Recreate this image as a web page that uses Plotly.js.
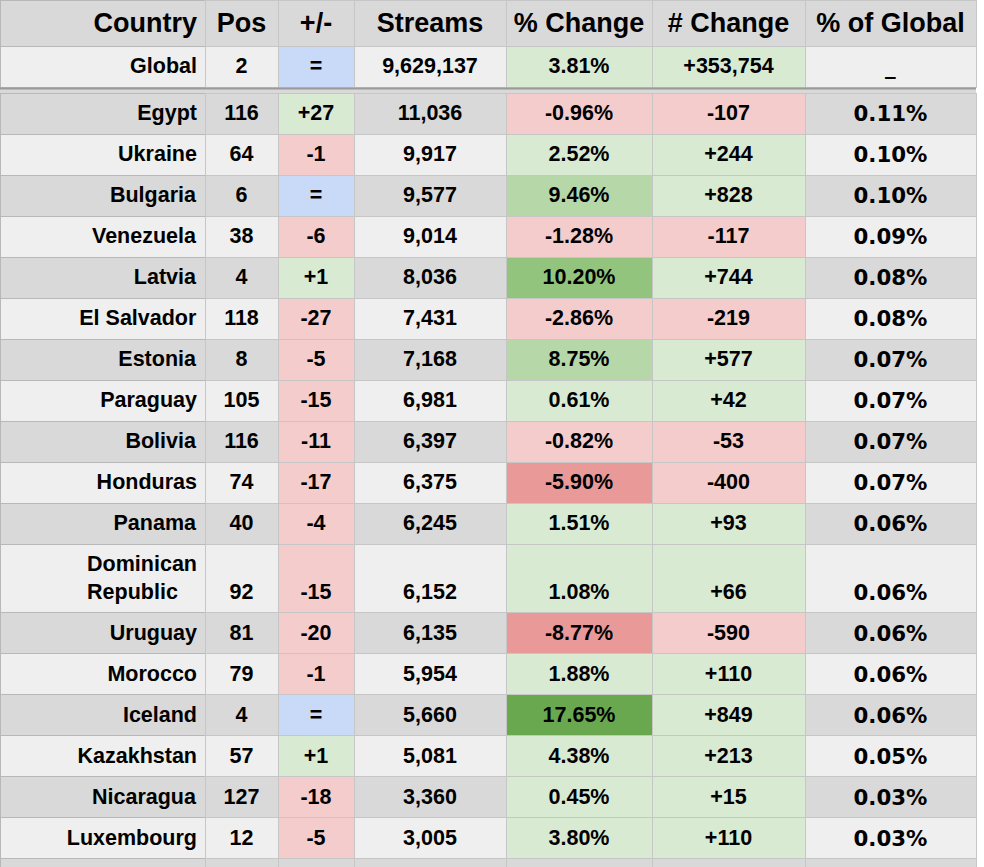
<!DOCTYPE html>
<html>
<head>
<meta charset="utf-8">
<script src="https://cdn.plot.ly/plotly-3.0.1.min.js"></script>
<style>html,body{margin:0;padding:0;background:#fff;}#chart{width:984px;height:867px;}</style>
</head>
<body>
<div id="chart"></div>
<script>
// ---- data ----
const headers = ["Country", "Pos", "+/-", "Streams", "% Change", "# Change", "% of Global"];
const globalRow = {country: "Global", pos: 2, posChange: "=", streams: 9629137, pctChange: 3.81, numChange: 353754, pctGlobal: "_"};
const countries = ["Egypt","Ukraine","Bulgaria","Venezuela","Latvia","El Salvador","Estonia","Paraguay","Bolivia","Honduras","Panama","Dominican Republic","Uruguay","Morocco","Iceland","Kazakhstan","Nicaragua","Luxembourg"];
const pos = [116,64,6,38,4,118,8,105,116,74,40,92,81,79,4,57,127,12];
const posChange = ["+27","-1","=","-6","+1","-27","-5","-15","-11","-17","-4","-15","-20","-1","=","+1","-18","-5"];
const streams = [11036,9917,9577,9014,8036,7431,7168,6981,6397,6375,6245,6152,6135,5954,5660,5081,3360,3005];
const pctChange = [-0.96,2.52,9.46,-1.28,10.20,-2.86,8.75,0.61,-0.82,-5.90,1.51,1.08,-8.77,1.88,17.65,4.38,0.45,3.80];
const numChange = [-107,244,828,-117,744,-219,577,42,-53,-400,93,66,-590,110,849,213,15,110];
const pctGlobal = [0.11,0.10,0.10,0.09,0.08,0.08,0.07,0.07,0.07,0.07,0.06,0.06,0.06,0.06,0.06,0.05,0.03,0.03];

// ---- formatting helpers ----
const b = s => "<b>" + s + "</b>";
const nb = s => s.replace(/ /g, "\u00a0");
const fmtInt = v => v.toLocaleString("en-US");
const fmtPct = v => v.toFixed(2) + "%";
const fmtSigned = v => (v > 0 ? "+" : "") + v.toLocaleString("en-US");
const wrapName = s => s.length > 12 ? s.replace(" ", "<br>") : s;

const GRAY = "#d9d9d9", LIGHT = "#efefef";
const GREEN = "#d9ead3", RED = "#f4cccc", BLUE = "#c9daf8";
function pctColor(v) {
  if (v >= 15) return "#6aa84f";
  if (v >= 10) return "#93c47d";
  if (v >= 8) return "#b6d7a8";
  if (v >= 0) return GREEN;
  if (v <= -5) return "#ea9999";
  return RED;
}
const signColor = s => s === "=" ? BLUE : (String(s).startsWith("-") ? RED : GREEN);
const numColor = v => v < 0 ? RED : GREEN;

const fontFam = "Liberation Sans, Arial, sans-serif";
const wideFam = "DejaVu Sans, Liberation Sans, sans-serif";
const colWidths = [205, 73, 76, 152, 146, 153, 171];
const aligns = ["right", "center", "center", "center", "center", "center", "center"];
const sizes = [21.5, 21.5, 21.5, 21.5, 21.5, 21.5, 21.3];
const fams = [fontFam, fontFam, fontFam, fontFam, fontFam, fontFam, wideFam];
const lineCols = ["#b8b8b8", "#c6c6c6", "#c6c6c6", "#c6c6c6", "#c6c6c6", "#c6c6c6", "#c6c6c6"];
const tableRight = 976 / 984;
const H = 867;

// ---- top table: header + Global ----
const topTrace = {
  type: "table",
  domain: {x: [0, tableRight], y: [1 - 88 / H, 1]},
  columnwidth: colWidths,
  header: {
    values: headers.map(h => b(nb(h))),
    align: aligns,
    height: 44,
    fill: {color: GRAY},
    line: {color: lineCols, width: 1},
    font: {family: fontFam, size: 27, color: "#000"}
  },
  cells: {
    values: [
      [b(globalRow.country)], [b(globalRow.pos)], [b(globalRow.posChange)], [b(fmtInt(globalRow.streams))],
      [b(fmtPct(globalRow.pctChange))], [b(fmtSigned(globalRow.numChange))], [b(globalRow.pctGlobal)]
    ],
    align: aligns,
    height: 41,
    fill: {color: [[LIGHT], [LIGHT], [signColor(globalRow.posChange)], [LIGHT], [pctColor(globalRow.pctChange)], [numColor(globalRow.numChange)], [LIGHT]]},
    line: {color: lineCols, width: 1},
    font: {family: fams, size: sizes, color: "#000"}
  }
};

// ---- body table ----
const n = countries.length;
const multi = countries.map(c => wrapName(c).includes("<br>"));
// cells beside a wrapped country name sit on its last line (bottom aligned)
const pre = i => (multi[i] ? "\u00a0<br>" : "");
const stripe = countries.map((_, i) => i % 2 === 0 ? GRAY : LIGHT);
// trailing empty row visible at the bottom edge
const blank = [""];
const colVals = [
  countries.map(c => b(wrapName(c))).concat(blank),
  pos.map((v, i) => pre(i) + b(v)).concat(blank),
  posChange.map((v, i) => pre(i) + b(v)).concat(blank),
  streams.map((v, i) => pre(i) + b(fmtInt(v))).concat(blank),
  pctChange.map((v, i) => pre(i) + b(fmtPct(v))).concat(blank),
  numChange.map((v, i) => pre(i) + b(fmtSigned(v))).concat(blank),
  pctGlobal.map((v, i) => pre(i) + b(fmtPct(v))).concat(blank)
];
const stripeAll = stripe.concat([n % 2 === 0 ? GRAY : LIGHT]);
const fills = [
  stripeAll,
  stripeAll,
  posChange.map(signColor).concat([stripeAll[n]]),
  stripeAll,
  pctChange.map(pctColor).concat([stripeAll[n]]),
  numChange.map(numColor).concat([stripeAll[n]]),
  stripeAll
];

// the empty header of the body table takes 16px; start its domain that much higher
const bodyTop = 93 - 16;
const bodyTrace = {
  type: "table",
  domain: {x: [0, tableRight], y: [0, 1 - bodyTop / H]},
  columnwidth: colWidths,
  header: {values: [], height: 0, line: {width: 0, color: "rgba(0,0,0,0)"}, fill: {color: "rgba(0,0,0,0)"}},
  cells: {
    values: colVals,
    align: aligns,
    height: 41,
    fill: {color: fills},
    line: {color: lineCols, width: 1},
    font: {family: fams, size: sizes, color: "#000"}
  }
};

const layout = {
  width: 984, height: 867,
  margin: {l: 0, r: 0, t: 0, b: 0},
  paper_bgcolor: "#ffffff",
  shapes: [
    {type: "rect", xref: "paper", yref: "paper", x0: 0, x1: tableRight, y0: 1 - 93 / H, y1: 1 - 88 / H,
     fillcolor: GRAY, line: {width: 0}, layer: "above"},
    {type: "line", xref: "paper", yref: "paper", x0: 0, x1: tableRight, y0: 1 - 88.5 / H, y1: 1 - 88.5 / H,
     line: {color: "#9a9a9a", width: 2}, layer: "above"}
  ]
};

Plotly.newPlot("chart", [topTrace, bodyTrace], layout, {displayModeBar: false, staticPlot: true});
</script>
</body>
</html>
